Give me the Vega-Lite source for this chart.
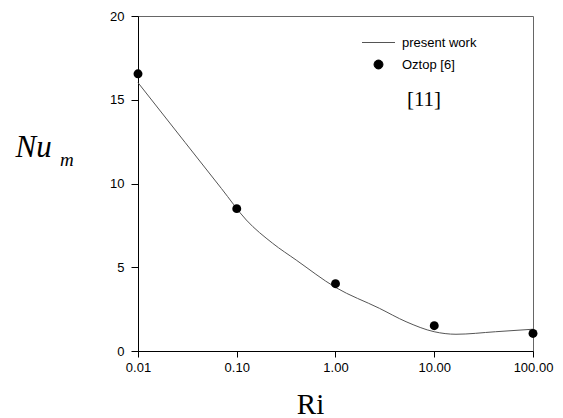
{
  "$schema": "https://vega.github.io/schema/vega-lite/v6.json",
  "width": 395,
  "height": 335,
  "autosize": {"type": "none"},
  "padding": {"left": 138, "top": 16, "right": 30, "bottom": 67},
  "background": "white",
  "title": {
    "text": "m",
    "font": "Liberation Serif",
    "fontStyle": "italic",
    "fontWeight": "normal",
    "fontSize": 19,
    "color": "black",
    "anchor": "start",
    "frame": "group",
    "orient": "top",
    "offset": 0,
    "baseline": "alphabetic",
    "dx": -78,
    "dy": 175
  },
  "config": {
    "view": {"stroke": "#666666", "strokeWidth": 1},
    "axis": {
      "grid": false,
      "domainColor": "black",
      "tickColor": "black",
      "labelColor": "black",
      "labelFont": "Liberation Sans",
      "labelFontSize": 13,
      "labelFlush": false,
      "labelOverlap": false,
      "titleColor": "black"
    }
  },
  "datasets": {
    "curve": [
      {"Ri": 0.01, "Nu": 16.02, "series": "present work"},
      {"Ri": 0.03, "Nu": 12.45, "series": "present work"},
      {"Ri": 0.07, "Nu": 9.7, "series": "present work"},
      {"Ri": 0.125, "Nu": 7.82, "series": "present work"},
      {"Ri": 0.231, "Nu": 6.43, "series": "present work"},
      {"Ri": 0.4, "Nu": 5.43, "series": "present work"},
      {"Ri": 1.0, "Nu": 3.8, "series": "present work"},
      {"Ri": 2.78, "Nu": 2.55, "series": "present work"},
      {"Ri": 5.18, "Nu": 1.75, "series": "present work"},
      {"Ri": 10.0, "Nu": 1.15, "series": "present work"},
      {"Ri": 16.6, "Nu": 1.0, "series": "present work"},
      {"Ri": 41.6, "Nu": 1.15, "series": "present work"},
      {"Ri": 100.0, "Nu": 1.3, "series": "present work"}
    ],
    "points": [
      {"Ri": 0.01, "Nu": 16.55, "series": "Oztop [6]"},
      {"Ri": 0.1, "Nu": 8.5, "series": "Oztop [6]"},
      {"Ri": 1.0, "Nu": 4.02, "series": "Oztop [6]"},
      {"Ri": 10.0, "Nu": 1.51, "series": "Oztop [6]"},
      {"Ri": 100.0, "Nu": 1.05, "series": "Oztop [6]"}
    ]
  },
  "encoding": {
    "x": {
      "field": "Ri",
      "type": "quantitative",
      "scale": {"type": "log", "domain": [0.01, 100], "nice": false},
      "axis": {
        "values": [0.01, 0.1, 1, 10, 100],
        "format": ".2f",
        "tickSize": 6,
        "labelPadding": 4,
        "title": "Ri",
        "titleFont": "Liberation Serif",
        "titleFontSize": 29,
        "titleFontWeight": "normal",
        "titleX": 172,
        "titleY": 62,
        "titleAlign": "center",
        "titleBaseline": "alphabetic"
      }
    },
    "y": {
      "field": "Nu",
      "type": "quantitative",
      "scale": {"domain": [0, 20], "nice": false, "zero": true},
      "axis": {
        "values": [0, 5, 10, 15, 20],
        "tickSize": 7,
        "labelPadding": 7,
        "title": "Nu",
        "titleFont": "Liberation Serif",
        "titleFontStyle": "italic",
        "titleFontWeight": "normal",
        "titleFontSize": 31,
        "titleAngle": 0,
        "titleAlign": "left",
        "titleBaseline": "alphabetic",
        "titleX": -123,
        "titleY": 140
      }
    },
    "color": {
      "field": "series",
      "type": "nominal",
      "scale": {"domain": ["present work", "Oztop [6]"], "range": ["#555555", "#000000"]},
      "legend": {
        "orient": "none",
        "legendX": 234,
        "legendY": 20,
        "title": "[11]",
        "titleOrient": "bottom",
        "titleFont": "Liberation Serif",
        "titleFontSize": 21,
        "titleFontWeight": "normal",
        "titleColor": "black",
        "titleAnchor": "middle",
        "titleAlign": "center",
        "titlePadding": 17,
        "labelFont": "Liberation Sans",
        "labelFontSize": 13,
        "labelColor": "black",
        "labelOffset": 17,
        "rowPadding": 8,
        "symbolSize": 1089,
        "symbolStrokeWidth": 1,
        "encode": {
          "symbols": {
            "update": {
              "shape": {"signal": "datum.value === 'present work' ? 'stroke' : 'circle'"},
              "size": {"signal": "datum.value === 'present work' ? 1089 : 80"},
              "fill": {"signal": "datum.value === 'present work' ? 'transparent' : 'black'"},
              "stroke": {"signal": "datum.value === 'present work' ? '#555555' : 'black'"},
              "fillOpacity": {"value": 1},
              "strokeWidth": {"value": 1}
            }
          }
        }
      }
    }
  },
  "layer": [
    {
      "data": {"name": "curve"},
      "mark": {"type": "line", "interpolate": "monotone", "strokeWidth": 1}
    },
    {
      "data": {"name": "points"},
      "mark": {"type": "point", "filled": true, "size": 80, "opacity": 1}
    }
  ]
}
